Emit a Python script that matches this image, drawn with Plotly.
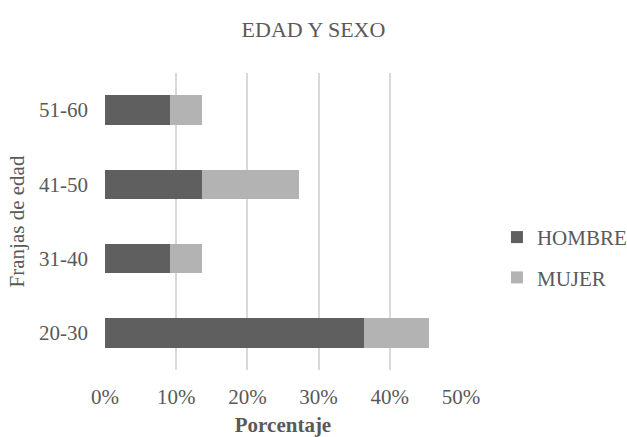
import plotly.graph_objects as go

# Age bands (bottom to top) and share of respondents per sex, in percent
franjas = ["20-30", "31-40", "41-50", "51-60"]
hombre = [36.36, 9.09, 13.64, 9.09]
mujer = [9.09, 4.55, 13.64, 4.55]
x_ticks = [0, 10, 20, 30, 40, 50]
x_tick_text = ["0%", "10%", "20%", "30%", "40%", "50%"]

FONT = "Liberation Serif, Times New Roman, serif"
TEXT = "#595959"

fig = go.Figure()
fig.add_trace(go.Bar(
    y=franjas, x=hombre, orientation="h", name="HOMBRE",
    marker=dict(color="#5f5f5f", line=dict(width=0)),
    legendgroup="h",
))
fig.add_trace(go.Bar(
    y=franjas, x=mujer, orientation="h", name="MUJER",
    marker=dict(color="#b3b3b3", line=dict(width=0)),
    legendgroup="m",
))

fig.update_layout(
    width=627, height=437,
    margin=dict(l=105, r=166, t=73, b=67, autoexpand=False),
    paper_bgcolor="white", plot_bgcolor="white",
    barmode="stack", bargap=0.6,
    font=dict(family=FONT, size=21, color=TEXT),
    title=dict(text="EDAD Y SEXO", x=0.5, xanchor="center",
               y=1 - 29 / 437, yanchor="middle",
               font=dict(family=FONT, size=22, color=TEXT)),
    xaxis=dict(
        range=[0, 50], tickvals=x_ticks, ticktext=x_tick_text,
        showgrid=True, gridcolor="#d9d9d9", gridwidth=1.5,
        zeroline=False, showline=False, ticks="",
        ticklabelstandoff=12,
        tickfont=dict(family=FONT, size=21, color=TEXT),
        title=dict(text="<b>Porcentaje</b>", standoff=12,
                   font=dict(family=FONT, size=21, color=TEXT)),
        fixedrange=True,
    ),
    yaxis=dict(
        categoryorder="array", categoryarray=franjas,
        showgrid=False, zeroline=False, showline=False, ticks="",
        ticklabelstandoff=16,
        tickfont=dict(family=FONT, size=21, color=TEXT),
        title=dict(text="Franjas de edad", standoff=8,
                   font=dict(family=FONT, size=21, color=TEXT)),
        fixedrange=True,
    ),
    legend=dict(
        x=1.101, xanchor="left", y=0.379, yanchor="middle",
        traceorder="grouped", tracegroupgap=10,
        font=dict(family=FONT, size=21, color=TEXT),
        bgcolor="rgba(0,0,0,0)",
    ),
)

fig.write_html("out.html")
